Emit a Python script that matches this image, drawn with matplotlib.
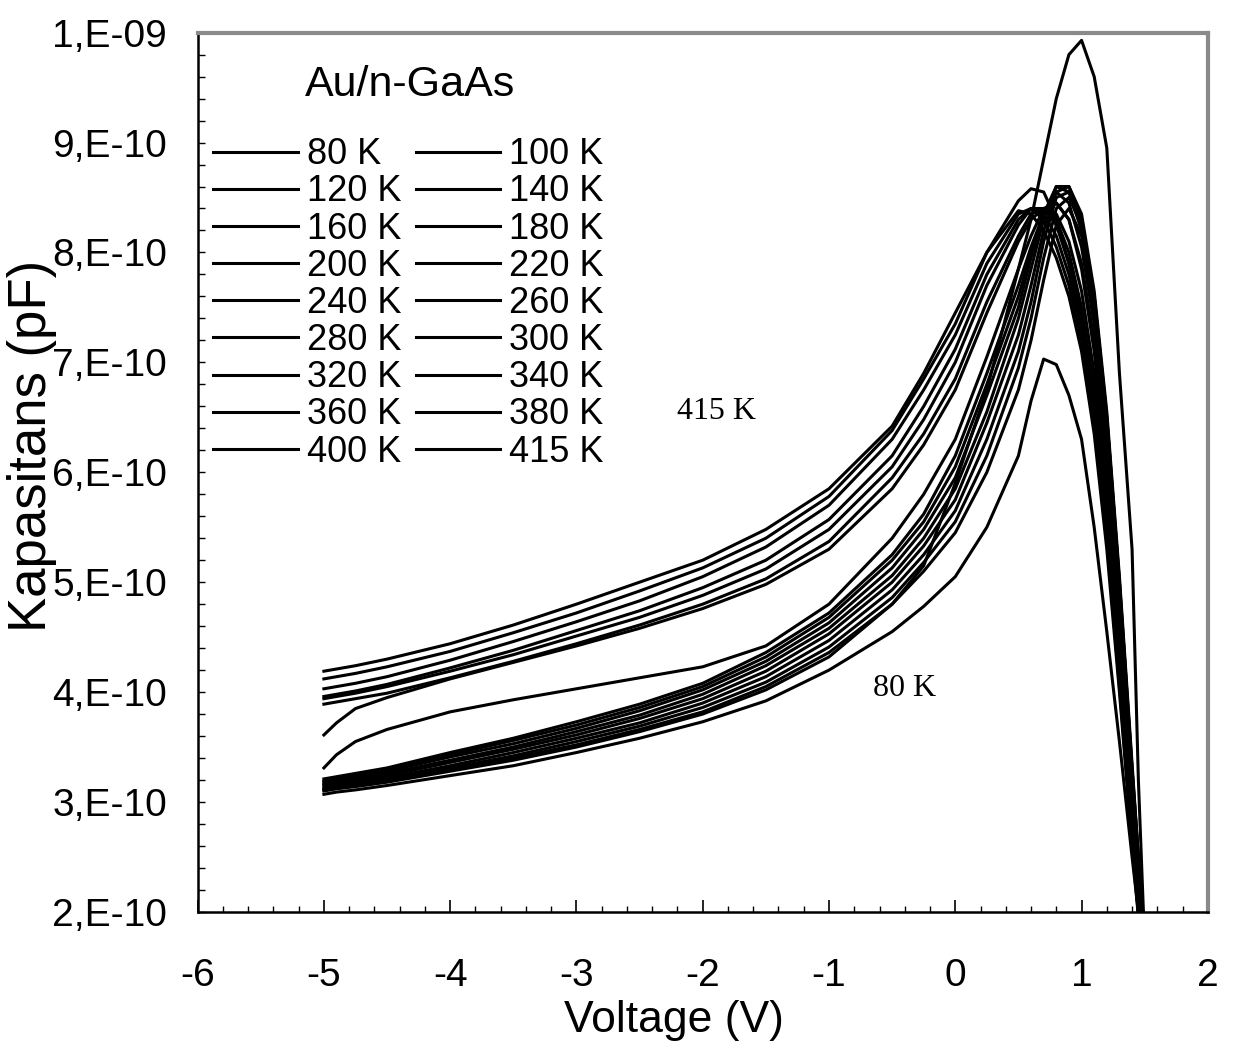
import numpy as np
import matplotlib.pyplot as plt
from matplotlib.ticker import MultipleLocator

plt.rcParams['font.family'] = ['Liberation Sans', 'DejaVu Sans']
plt.rcParams['axes.unicode_minus'] = False

# bias voltage (V) shared by all curves
voltage = [-5.0, -4.9, -4.75, -4.5, -4.0, -3.5, -3.0, -2.5, -2.0, -1.5, -1.0, -0.5, -0.25,
           0.0, 0.25, 0.5, 0.6, 0.7, 0.8, 0.9, 1.0, 1.1, 1.2, 1.3, 1.4, 1.45, 1.5]

temps = ["80 K", "100 K", "120 K", "140 K", "160 K", "180 K", "200 K", "220 K", "240 K",
         "260 K", "280 K", "300 K", "320 K", "340 K", "360 K", "380 K", "400 K", "415 K"]

# capacitance in units of 1e-10 F
c80 = [3.07, 3.09, 3.11, 3.15, 3.24, 3.33, 3.45, 3.58, 3.73, 3.92, 4.20, 4.55, 4.78,
       5.05, 5.50, 6.15, 6.65, 7.03, 6.98, 6.70, 6.30, 5.50, 4.55, 3.55, 2.50, 2.00, 1.50]
c100 = [3.10, 3.12, 3.14, 3.18, 3.28, 3.38, 3.50, 3.64, 3.80, 4.02, 4.32, 4.80, 5.15,
        5.90, 6.75, 7.85, 8.30, 8.85, 9.40, 9.80, 9.93, 9.60, 8.95, 6.90, 5.30, 3.20, 1.70]
c120 = [3.11, 3.13, 3.15, 3.19, 3.29, 3.40, 3.52, 3.66, 3.82, 4.05, 4.36, 4.80, 5.10,
        5.45, 6.00, 6.75, 7.20, 7.75, 8.25, 8.40, 8.15, 7.50, 6.40, 4.90, 3.20, 2.40, 1.70]
c140 = [3.12, 3.14, 3.16, 3.20, 3.31, 3.42, 3.55, 3.69, 3.86, 4.09, 4.41, 4.86, 5.18,
        5.55, 6.15, 6.95, 7.40, 7.95, 8.40, 8.50, 8.25, 7.55, 6.45, 4.95, 3.25, 2.45, 1.70]
c160 = [3.13, 3.15, 3.18, 3.22, 3.33, 3.45, 3.58, 3.72, 3.90, 4.14, 4.47, 4.93, 5.25,
        5.65, 6.30, 7.10, 7.55, 8.10, 8.50, 8.55, 8.30, 7.60, 6.50, 5.00, 3.30, 2.50, 1.75]
c180 = [3.15, 3.17, 3.20, 3.24, 3.36, 3.48, 3.61, 3.76, 3.94, 4.19, 4.53, 5.00, 5.33,
        5.75, 6.45, 7.25, 7.70, 8.20, 8.55, 8.60, 8.35, 7.65, 6.55, 5.05, 3.35, 2.50, 1.75]
c200 = [3.16, 3.18, 3.21, 3.26, 3.38, 3.50, 3.64, 3.79, 3.98, 4.24, 4.58, 5.06, 5.40,
        5.85, 6.55, 7.40, 7.85, 8.30, 8.60, 8.60, 8.30, 7.60, 6.50, 5.00, 3.30, 2.50, 1.75]
c220 = [3.18, 3.20, 3.23, 3.28, 3.41, 3.53, 3.67, 3.83, 4.02, 4.28, 4.63, 5.13, 5.48,
        5.95, 6.70, 7.50, 7.95, 8.35, 8.60, 8.55, 8.20, 7.50, 6.40, 4.90, 3.20, 2.40, 1.70]
c240 = [3.19, 3.21, 3.24, 3.30, 3.43, 3.56, 3.70, 3.86, 4.05, 4.32, 4.68, 5.20, 5.55,
        6.05, 6.80, 7.60, 8.00, 8.35, 8.55, 8.45, 8.05, 7.35, 6.25, 4.80, 3.10, 2.35, 1.65]
c260 = [3.21, 3.23, 3.26, 3.31, 3.45, 3.58, 3.73, 3.89, 4.08, 4.36, 4.72, 5.25, 5.62,
        6.15, 6.90, 7.70, 8.05, 8.35, 8.45, 8.30, 7.90, 7.20, 6.10, 4.65, 3.00, 2.25, 1.60]
c280 = [3.31, 3.43, 3.55, 3.66, 3.82, 3.93, 4.03, 4.13, 4.23, 4.42, 4.80, 5.40, 5.80,
        6.30, 7.05, 7.85, 8.15, 8.40, 8.45, 8.30, 7.85, 7.10, 6.00, 4.55, 2.95, 2.20, 1.60]
c300 = [3.61, 3.72, 3.85, 3.95, 4.12, 4.27, 4.42, 4.58, 4.76, 4.98, 5.30, 5.85, 6.25,
        6.75, 7.45, 8.10, 8.30, 8.40, 8.35, 8.10, 7.65, 6.90, 5.80, 4.40, 2.85, 2.15, 1.55]
c320 = [3.89, 3.91, 3.94, 3.99, 4.13, 4.28, 4.44, 4.61, 4.80, 5.03, 5.37, 5.95, 6.35,
        6.85, 7.55, 8.15, 8.35, 8.40, 8.30, 8.00, 7.50, 6.75, 5.65, 4.30, 2.80, 2.10, 1.55]
c340 = [3.94, 3.96, 3.99, 4.05, 4.19, 4.34, 4.51, 4.68, 4.88, 5.12, 5.48, 6.05, 6.48,
        7.00, 7.70, 8.25, 8.40, 8.40, 8.25, 7.90, 7.40, 6.65, 5.55, 4.20, 2.75, 2.05, 1.50]
c360 = [3.96, 3.98, 4.01, 4.07, 4.22, 4.38, 4.56, 4.74, 4.95, 5.20, 5.57, 6.15, 6.60,
        7.12, 7.80, 8.30, 8.40, 8.35, 8.15, 7.80, 7.30, 6.55, 5.45, 4.10, 2.70, 2.00, 1.50]
c380 = [4.03, 4.05, 4.08, 4.14, 4.29, 4.46, 4.64, 4.83, 5.05, 5.32, 5.70, 6.30, 6.75,
        7.25, 7.90, 8.35, 8.40, 8.30, 8.05, 7.70, 7.20, 6.45, 5.40, 4.05, 2.65, 2.00, 1.50]
c400 = [4.12, 4.14, 4.17, 4.23, 4.37, 4.54, 4.72, 4.92, 5.13, 5.40, 5.78, 6.38, 6.85,
        7.35, 8.00, 8.38, 8.35, 8.20, 7.95, 7.60, 7.10, 6.35, 5.30, 4.00, 2.60, 1.95, 1.45]
c415 = [4.19, 4.21, 4.24, 4.30, 4.44, 4.61, 4.80, 5.00, 5.20, 5.48, 5.85, 6.42, 6.90,
        7.45, 8.00, 8.47, 8.58, 8.55, 8.30, 7.90, 7.40, 6.60, 5.50, 4.15, 2.70, 2.00, 1.45]

curves = [c80, c100, c120, c140, c160, c180, c200, c220, c240,
          c260, c280, c300, c320, c340, c360, c380, c400, c415]

ytick_vals = [2e-10, 3e-10, 4e-10, 5e-10, 6e-10, 7e-10, 8e-10, 9e-10, 1e-9]
ytick_labels = ["2,E-10", "3,E-10", "4,E-10", "5,E-10", "6,E-10",
                "7,E-10", "8,E-10", "9,E-10", "1,E-09"]

fig = plt.figure(figsize=(12.35, 10.53), dpi=100)
ax = fig.add_axes([0.160, 0.134, 0.818, 0.835])

handles = []
for lab, c in zip(temps, curves):
    ln, = ax.plot(voltage, np.array(c) * 1e-10, color='black', lw=2.2, label=lab)
    handles.append(ln)

ax.set_xlim(-6, 2)
ax.set_ylim(2e-10, 1e-9)
ax.set_xticks(range(-6, 3))
ax.xaxis.set_minor_locator(MultipleLocator(0.2))
ax.set_yticks(ytick_vals)
ax.set_yticklabels(ytick_labels)
ax.yaxis.set_minor_locator(MultipleLocator(2e-11))

ax.tick_params(axis='x', which='major', direction='in', length=9, width=1.2,
               labelsize=28, pad=33, top=False)
ax.tick_params(axis='x', which='minor', direction='in', length=4.5, width=1, top=False)
ax.tick_params(axis='y', which='both', direction='in', length=5, width=1,
               labelsize=28, pad=22, right=False)

for s in ['left', 'bottom']:
    ax.spines[s].set_color('black')
    ax.spines[s].set_linewidth(1.8)
for s in ['top', 'right']:
    ax.spines[s].set_color('#8a8a8a')
    ax.spines[s].set_linewidth(3)

ax.set_xlabel("Voltage (V)", fontsize=32, va='center')
ax.xaxis.set_label_coords(0.472, -0.123)
ax.set_ylabel("Kapasitans (pF)", fontsize=38, va='center')
ax.yaxis.set_label_coords(-0.164, 0.53)

ax.text(-5.15, 9.52e-10, "Au/n-GaAs", fontsize=31, ha='left', va='center')
ax.text(-1.89, 6.55e-10, "415 K", fontsize=23, family='Liberation Serif',
        ha='center', va='center')
ax.text(-0.40, 4.03e-10, "80 K", fontsize=23, family='Liberation Serif',
        ha='center', va='center')

order = handles[0::2] + handles[1::2]
ax.legend(order, [h.get_label() for h in order], ncol=2, loc='upper left',
          bbox_to_anchor=(0.015, 0.881), frameon=False, fontsize=26,
          handlelength=2.35, handletextpad=0.25, columnspacing=0.4,
          labelspacing=0.06, borderpad=0, borderaxespad=0)

fig.savefig("out.png", dpi=100)
